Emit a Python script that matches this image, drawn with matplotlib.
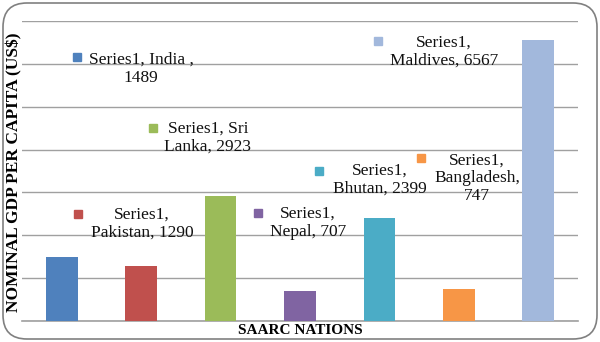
import matplotlib
matplotlib.use('Agg')
import matplotlib.pyplot as plt
from matplotlib.patches import FancyBboxPatch

# data
countries = ['India', 'Pakistan', 'Sri Lanka', 'Nepal', 'Bhutan', 'Bangladesh', 'Maldives']
gdp = [1489, 1290, 2923, 707, 2399, 747, 6567]
colors = ['#4F81BD', '#C0504D', '#9BBB59', '#8064A2', '#4BACC6', '#F79646', '#A2B8DC']
label_texts = ['Series1, India ,\n1489', 'Series1,\nPakistan, 1290', 'Series1, Sri\nLanka, 2923',
               'Series1,\nNepal, 707', 'Series1,\nBhutan, 2399', 'Series1,\nBangladesh,\n747',
               'Series1,\nMaldives, 6567']

# label layout (pixel positions of the legend-like boxes in the reference)
marker_px = [(77, 57), (78, 214), (153, 128), (258, 213), (319, 171), (421, 158), (378, 41)]
text_px = [(141, 69), (142, 224), (208, 138), (308, 223), (380, 180), (477, 178), (444, 52)]

W, H = 600, 342
plt.rcParams['font.family'] = ['Liberation Serif', 'DejaVu Serif']

fig = plt.figure(figsize=(W / 100, H / 100), dpi=100)
ax = fig.add_axes([22 / W, 1 - 321 / H, 556 / W, 300 / H])

x = range(len(countries))
ax.bar(x, gdp, width=0.4, color=colors, zorder=3)
ax.set_xlim(-0.5, len(countries) - 0.5)
ax.set_ylim(0, 7000)
ax.set_yticks(range(0, 7001, 1000))
ax.yaxis.grid(True, color='#A0A0A0', linewidth=1.0, zorder=0)
ax.set_xticks([])
ax.tick_params(axis='y', length=0, labelleft=False)
for s in ['top', 'right', 'left']:
    ax.spines[s].set_visible(False)
ax.spines['bottom'].set_color('#A0A0A0')
ax.spines['bottom'].set_linewidth(1.2)

for (mx, my), (tx, ty), txt, c in zip(marker_px, text_px, label_texts, colors):
    fig.patches.append(plt.Rectangle(((mx - 4) / W, 1 - (my + 4) / H), 8 / W, 8 / H,
                                     transform=fig.transFigure, color=c))
    fig.text(tx / W, 1 - ty / H, txt, ha='center', va='center', fontsize=12.5,
             linespacing=1.15, color='#111111')

fig.text(14 / W, 1 - 172 / H, 'NOMINAL GDP PER CAPITA (US$)', rotation=90,
         ha='center', va='center', fontsize=12.5, fontweight='bold')
fig.text(300 / W, 1 - 331 / H, 'SAARC NATIONS', ha='center', va='center',
         fontsize=11, fontweight='bold')

border = FancyBboxPatch((3 / W, 3 / H), 594 / W, 336 / H,
                        boxstyle='round,pad=0,rounding_size=0.04',
                        transform=fig.transFigure, fill=False, edgecolor='#808080',
                        linewidth=1.2, mutation_aspect=W / H)
fig.patches.append(border)

fig.savefig('out.png', dpi=100)
